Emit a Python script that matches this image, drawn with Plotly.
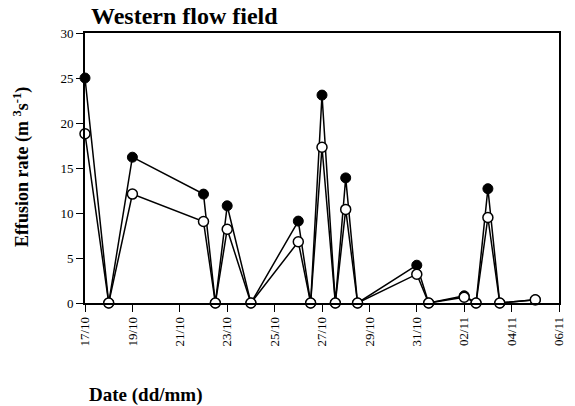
import plotly.graph_objects as go

dates = ["2001-10-17", "2001-10-18", "2001-10-19", "2001-10-22", "2001-10-22 12:00",
         "2001-10-23", "2001-10-24", "2001-10-26", "2001-10-26 12:30", "2001-10-27",
         "2001-10-27 13:30", "2001-10-28", "2001-10-28 12:00", "2001-10-31", "2001-10-31 12:00",
         "2001-11-02", "2001-11-02 12:00", "2001-11-03", "2001-11-03 12:00", "2001-11-05"]
rate_max = [25.0, 0, 16.2, 12.1, 0, 10.8, 0, 9.1, 0, 23.1, 0, 13.9, 0, 4.2, 0, 0.8, 0, 12.7, 0, 0.35]
rate_min = [18.8, 0, 12.1, 9.05, 0, 8.2, 0, 6.8, 0, 17.3, 0, 10.4, 0, 3.2, 0, 0.65, 0, 9.5, 0, 0.35]

tick_dates = ["2001-10-17", "2001-10-19", "2001-10-21", "2001-10-23", "2001-10-25", "2001-10-27",
              "2001-10-29", "2001-10-31", "2001-11-02", "2001-11-04", "2001-11-06"]
tick_labels = ["17/10", "19/10", "21/10", "23/10", "25/10", "27/10",
               "29/10", "31/10", "02/11", "04/11", "06/11"]

SERIF = "Liberation Serif"

fig = go.Figure()
fig.add_trace(go.Scatter(
    x=dates, y=rate_max, mode="lines+markers", name="Maximum",
    line=dict(color="black", width=1.5),
    marker=dict(symbol="circle", size=10, color="black", line=dict(color="black", width=1)),
    cliponaxis=False))
fig.add_trace(go.Scatter(
    x=dates, y=rate_min, mode="lines+markers", name="Minimum",
    line=dict(color="black", width=1.5),
    marker=dict(symbol="circle", size=10, color="white", line=dict(color="black", width=1.5)),
    cliponaxis=False))

fig.update_layout(
    width=575, height=406,
    margin=dict(l=85, r=9, t=33, b=103),
    paper_bgcolor="white", plot_bgcolor="white",
    showlegend=False,
    font=dict(family=SERIF, color="black", size=12),
    xaxis=dict(
        type="date", range=["2001-10-17", "2001-11-06"],
        tickvals=tick_dates, ticktext=tick_labels, tickangle=-90,
        ticks="outside", ticklen=7, tickwidth=1.2, tickcolor="black",
        showline=True, linecolor="black", linewidth=1.5, mirror=True,
        showgrid=False, zeroline=False,
        tickfont=dict(family=SERIF, size=13, color="black")),
    yaxis=dict(
        range=[0, 30], dtick=5, tick0=0,
        ticks="outside", ticklen=7, tickwidth=1.2, tickcolor="black",
        showline=True, linecolor="black", linewidth=2, mirror=True,
        showgrid=False, zeroline=False,
        tickfont=dict(family=SERIF, size=13, color="black")),
    annotations=[
        dict(text="<b>Western flow field</b>", xref="paper", yref="paper",
             x=(89 - 85) / 481, y=1, xanchor="left", yanchor="bottom", yshift=2,
             showarrow=False, font=dict(family=SERIF, size=24, color="black")),
        dict(text="<b>Effusion rate (m <sup>3</sup>s<sup>-1</sup>)</b>", xref="paper", yref="paper",
             x=(21 - 85) / 481, y=(303 - 167) / 270, xanchor="center", yanchor="middle", textangle=-90,
             showarrow=False, font=dict(family=SERIF, size=18, color="black")),
        dict(text="<b>Date (dd/mm)</b>", xref="paper", yref="paper",
             x=(87 - 85) / 481, y=-(395 - 303) / 270, xanchor="left", yanchor="middle",
             showarrow=False, font=dict(family=SERIF, size=19, color="black")),
    ],
)

fig.write_html("out.html")
